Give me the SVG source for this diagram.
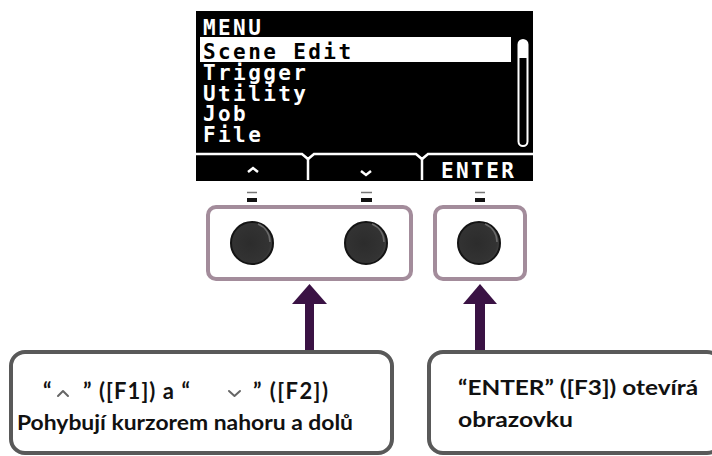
<svg xmlns="http://www.w3.org/2000/svg" width="712" height="456" viewBox="0 0 712 456">
  <style>
    .lcd { font-family: "DejaVu Sans Mono", "Liberation Mono", monospace; font-weight: bold; font-size: 21px; letter-spacing: 2.4px; fill: #fff; }
    .lcd-inv { fill: #000; }
    .lcd-line { stroke: #fff; stroke-width: 2.5; fill: none; }
    .tick-top { stroke: #777; stroke-width: 1.5; }
    .tick-bot { stroke: #111; stroke-width: 4; }
    .group { fill: none; stroke: #a38c9b; stroke-width: 4; }
    .knob { fill: url(#knobFill); stroke: #141414; stroke-width: 2; }
    .knob-rim { fill: none; stroke: #6a6a6a; stroke-width: 1.5; }
    .arrow { fill: #3a1244; }
    .callout { fill: #fff; stroke: #595959; stroke-width: 4; }
    .label { font-family: Lato, "Open Sans", "Liberation Sans", sans-serif; font-weight: bold; font-size: 20px; fill: #111; }
    .big { font-size: 22px; }
    .chev { fill: none; stroke: #666; stroke-width: 2; stroke-linecap: round; stroke-linejoin: round; }
  </style>
  <defs>
    <radialGradient id="knobFill" cx="0.45" cy="0.5" r="0.55">
      <stop offset="0" stop-color="#2c2c2c"/>
      <stop offset="0.85" stop-color="#333"/>
      <stop offset="1" stop-color="#444"/>
    </radialGradient>
  </defs>

  <rect width="712" height="456" fill="#fff"/>

  <!-- LCD screen -->
  <g id="screen">
    <rect x="196" y="11" width="337" height="170" fill="#000"/>
    <rect x="200" y="37" width="311" height="25" fill="#fff"/>
    <text class="lcd" x="203" y="35">MENU</text>
    <text class="lcd lcd-inv" x="203" y="59">Scene Edit</text>
    <text class="lcd" x="203" y="80">Trigger</text>
    <text class="lcd" x="203" y="101">Utility</text>
    <text class="lcd" x="203" y="121">Job</text>
    <text class="lcd" x="203" y="142">File</text>
    <!-- scroll bar -->
    <rect x="518.5" y="40" width="9" height="106" rx="4.5" fill="#000" stroke="#fff" stroke-width="2"/>
    <path d="M518.5,58 V44.5 A4.5,4.5 0 0 1 527.5,44.5 V58 Z" fill="#fff"/>
    <!-- soft-key bar -->
    <path class="lcd-line" d="M196,154 H302 L308,159 L314,154 H416 L422,159 L428,154 H533"/>
    <path class="lcd-line" d="M308,159 V180 M422,159 V180"/>
    <path class="lcd-line" stroke-width="2" d="M248,172 L253,168 L258,172"/>
    <path class="lcd-line" stroke-width="2" d="M361,171 L366,175 L371,171"/>
    <text class="lcd" x="441" y="178" font-size="20" font-weight="normal" letter-spacing="2.5">ENTER</text>
  </g>

  <!-- key position marks -->
  <g id="marks">
    <line class="tick-top" x1="247" y1="192.5" x2="257" y2="192.5"/>
    <line class="tick-bot" x1="247" y1="200" x2="257" y2="200"/>
    <line class="tick-top" x1="361" y1="192.5" x2="372" y2="192.5"/>
    <line class="tick-bot" x1="361" y1="200" x2="372" y2="200"/>
    <line class="tick-top" x1="475" y1="192.5" x2="485" y2="192.5"/>
    <line class="tick-bot" x1="475" y1="200" x2="485" y2="200"/>
  </g>

  <!-- F1 / F2 keys -->
  <g id="keys-f1-f2">
    <rect class="group" x="208" y="207" width="203" height="72" rx="8"/>
    <circle class="knob" cx="252" cy="243" r="21"/>
    <path class="knob-rim" d="M258,224 A19,19 0 0 1 270,242"/>
    <circle class="knob" cx="366" cy="243" r="21"/>
    <path class="knob-rim" d="M372,224 A19,19 0 0 1 384,242"/>
  </g>

  <!-- F3 key -->
  <g id="key-f3">
    <rect class="group" x="435" y="207" width="90" height="72" rx="8"/>
    <circle class="knob" cx="479" cy="243" r="21"/>
    <path class="knob-rim" d="M485,224 A19,19 0 0 1 497,242"/>
  </g>

  <!-- pointers -->
  <g id="connectors">
    <rect class="arrow" x="305" y="302" width="9" height="50"/>
    <polygon class="arrow" points="292,304 309.5,284 327,304"/>
    <rect class="arrow" x="475" y="302" width="10" height="50"/>
    <polygon class="arrow" points="463,304 480,284 497,304"/>
  </g>

  <!-- callout for F1 / F2 -->
  <g id="callout-f1-f2">
    <rect class="callout" x="11" y="352" width="381" height="101" rx="14"/>
    <text class="label big" x="43" y="399">“</text>
    <path class="chev" d="M58,396 L63,391 L68,396"/>
    <text class="label big" x="83" y="399">”</text>
    <text class="label big" x="99" y="399" textLength="91" lengthAdjust="spacing">([F1]) a “</text>
    <path class="chev" d="M229,391 L234.5,396 L240,391"/>
    <text class="label big" x="253" y="399" textLength="75" lengthAdjust="spacing">” ([F2])</text>
    <text class="label" x="17" y="430" textLength="336" lengthAdjust="spacingAndGlyphs">Pohybují kurzorem nahoru a dolů</text>
  </g>

  <!-- callout for F3 -->
  <g id="callout-f3">
    <rect class="callout" x="429" y="352" width="292" height="101" rx="14"/>
    <text class="label" x="458" y="395" font-size="21" textLength="240" lengthAdjust="spacingAndGlyphs">“ENTER” ([F3]) otevírá</text>
    <text class="label" x="458" y="427" font-size="21" textLength="115" lengthAdjust="spacingAndGlyphs">obrazovku</text>
  </g>
</svg>
